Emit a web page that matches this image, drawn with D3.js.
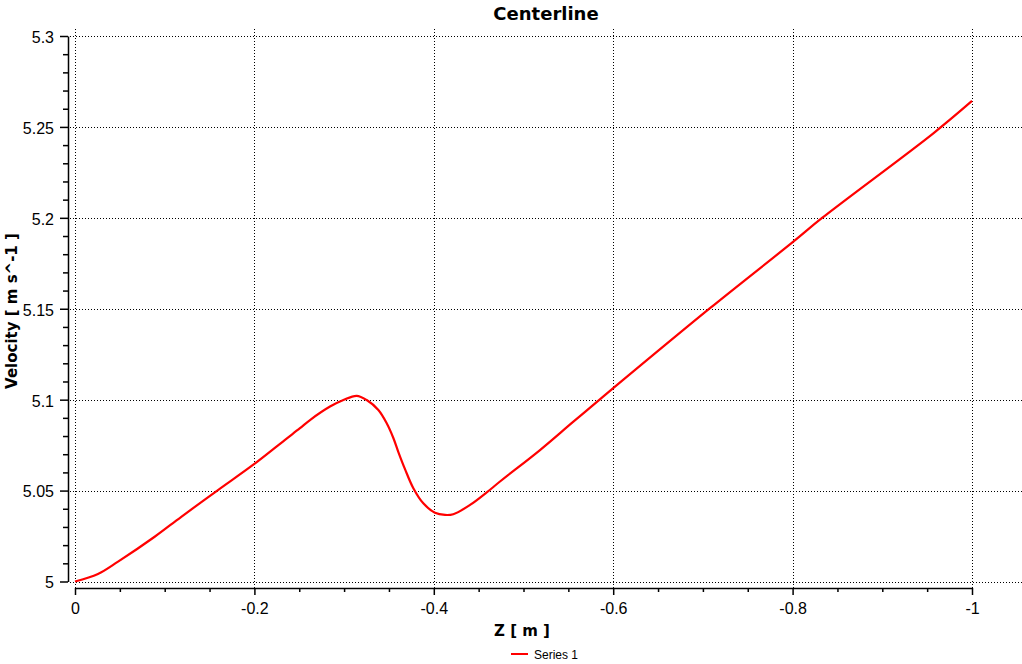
<!DOCTYPE html>
<html><head><meta charset="utf-8">
<script src="https://cdn.jsdelivr.net/npm/d3@7"></script>
<style>
html,body{margin:0;padding:0;background:#fff;}
svg{display:block;}
</style></head>
<body>
<svg id="chart" width="1022" height="664"></svg>
<script>
const title = "Centerline";
const xLabel = "Z [ m ]";
const yLabel = "Velocity [ m s^-1 ]";
const seriesName = "Series 1";
const zValues = [0, -0.0256, -0.048, -0.0888, -0.1185, -0.1594, -0.1984, -0.2338, -0.2508, -0.262, -0.2843, -0.2992, -0.314, -0.3252, -0.3382, -0.3475, -0.355, -0.3605, -0.3679, -0.3772, -0.3883, -0.4013, -0.4125, -0.4217, -0.4404, -0.459, -0.4738, -0.5184, -0.5556, -0.6, -0.7079, -0.8008, -0.8325, -0.9569, -1.0];
const velocity = [5.0, 5.0041, 5.0109, 5.0246, 5.0356, 5.0503, 5.0641, 5.0778, 5.0843, 5.0888, 5.0962, 5.0998, 5.1021, 5.0998, 5.0943, 5.0870, 5.0788, 5.0712, 5.0618, 5.0513, 5.0430, 5.0378, 5.0366, 5.0370, 5.0421, 5.0490, 5.0550, 5.0723, 5.0879, 5.1063, 5.1503, 5.1869, 5.1998, 5.2465, 5.2643];
const xMajorTicks = [0, -0.2, -0.4, -0.6, -0.8, -1];
const xTickLabels = ["0", "-0.2", "-0.4", "-0.6", "-0.8", "-1"];
const xMinorTicks = [-0.05, -0.1, -0.15, -0.25, -0.3, -0.35, -0.45, -0.5, -0.55, -0.65, -0.7, -0.75, -0.85, -0.9, -0.95];
const yMajorTicks = [5, 5.05, 5.1, 5.15, 5.2, 5.25, 5.3];
const yTickLabels = ["5", "5.05", "5.1", "5.15", "5.2", "5.25", "5.3"];
const yMinorTicks = [5.01,5.02,5.03,5.04,5.06,5.07,5.08,5.09,5.11,5.12,5.13,5.14,5.16,5.17,5.18,5.19,5.21,5.22,5.23,5.24,5.26,5.27,5.28,5.29];

const svg = d3.select("#chart");
const x = d3.scaleLinear().domain([0, -1]).range([75, 972]);
const y = d3.scaleLinear().domain([5, 5.3]).range([581.5, 36]);
const plotLeft = 68, plotRight = 1022, plotTop = 29, plotBottom = 588;

// grid
const grid = svg.append("g").attr("stroke", "#000").attr("stroke-width", 1).attr("stroke-dasharray", "1,2").attr("shape-rendering", "crispEdges");
grid.selectAll("line.h").data(yMajorTicks).enter().append("line")
  .attr("x1", plotLeft + 2).attr("x2", plotRight)
  .attr("y1", d => Math.round(y(d)) + 0.5).attr("y2", d => Math.round(y(d)) + 0.5);
grid.selectAll("line.v").data(xMajorTicks).enter().append("line")
  .attr("y1", plotTop).attr("y2", plotBottom)
  .attr("x1", d => Math.round(x(d)) + 0.5).attr("x2", d => Math.round(x(d)) + 0.5);

// y axis
const fontTick = "'Liberation Sans', Arial, sans-serif";
const yAxis = svg.append("g").attr("transform", `translate(${plotLeft},0)`)
  .call(d3.axisLeft(y).tickValues(yMajorTicks).tickFormat((d, i) => yTickLabels[i]).tickSize(8).tickSizeOuter(0).tickPadding(6));
svg.append("g").attr("transform", `translate(${plotLeft},0)`)
  .call(d3.axisLeft(y).tickValues(yMinorTicks).tickFormat("").tickSize(5).tickSizeOuter(0))
  .call(g => g.select(".domain").remove());
yAxis.selectAll("text").attr("font-family", fontTick).attr("font-size", 16).attr("fill", "#000").attr("dy", "0.4em");

// x axis
const xAxis = svg.append("g").attr("transform", `translate(0,${plotBottom})`)
  .call(d3.axisBottom(x).tickValues(xMajorTicks).tickFormat((d, i) => xTickLabels[i]).tickSize(7).tickSizeOuter(0).tickPadding(8));
svg.append("g").attr("transform", `translate(0,${plotBottom})`)
  .call(d3.axisBottom(x).tickValues(xMinorTicks).tickFormat("").tickSize(4).tickSizeOuter(0))
  .call(g => g.select(".domain").remove());
xAxis.selectAll("text").attr("font-family", fontTick).attr("font-size", 16).attr("fill", "#000");
svg.selectAll(".domain, .tick line").attr("stroke", "#000").attr("stroke-width", 1.5);

// line
const pts = zValues.map((z, i) => [z, velocity[i]]);
svg.append("path").datum(pts)
  .attr("fill", "none").attr("stroke", "#ff0000").attr("stroke-width", 2.2)
  .attr("d", d3.line().x(d => x(d[0])).y(d => y(d[1])).curve(d3.curveCatmullRom.alpha(0.5)));

// titles
const boldFont = "'DejaVu Sans', Verdana, sans-serif";
svg.append("text").attr("x", 546).attr("y", 20).attr("text-anchor", "middle")
  .attr("font-family", boldFont).attr("font-weight", "bold").attr("font-size", 18).text(title);
svg.append("text").attr("x", 522).attr("y", 636).attr("text-anchor", "middle")
  .attr("font-family", boldFont).attr("font-weight", "bold").attr("font-size", 15).text(xLabel);
svg.append("text").attr("transform", "translate(17,311) rotate(-90)").attr("text-anchor", "middle")
  .attr("font-family", boldFont).attr("font-weight", "bold").attr("font-size", 15).text(yLabel);

// legend
svg.append("line").attr("x1", 511).attr("x2", 528).attr("y1", 654).attr("y2", 654)
  .attr("stroke", "#ff0000").attr("stroke-width", 2);
svg.append("text").attr("x", 534).attr("y", 659).attr("font-family", fontTick).attr("font-size", 12).text(seriesName);
</script>
</body></html>
